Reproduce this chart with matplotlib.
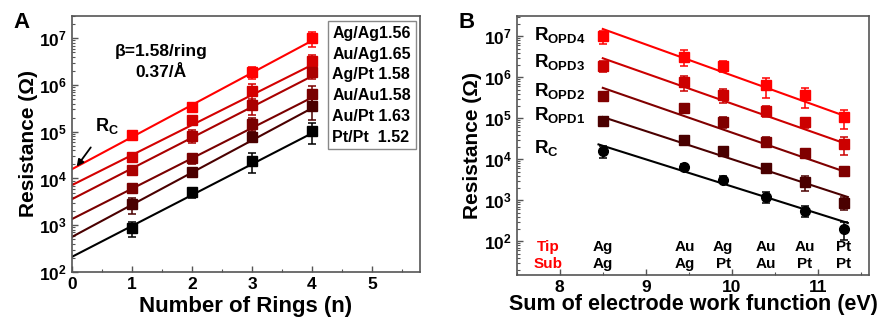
import matplotlib
matplotlib.use("Agg")
import matplotlib.pyplot as plt
import matplotlib.transforms as mtransforms
from matplotlib.ticker import FuncFormatter, LogLocator, MultipleLocator, NullFormatter
import numpy as np

plt.rcParams['font.family'] = ['Liberation Sans', 'DejaVu Sans']
plt.rcParams['font.weight'] = 'bold'
plt.rcParams['mathtext.fontset'] = 'custom'
plt.rcParams['mathtext.rm'] = 'Liberation Sans:bold'
plt.rcParams['mathtext.bf'] = 'Liberation Sans:bold'
plt.rcParams['mathtext.it'] = 'Liberation Sans:bold'

# ---- data ----
junctions = ['Ag/Ag', 'Au/Ag', 'Ag/Pt', 'Au/Au', 'Au/Pt', 'Pt/Pt']
tips = ['Ag', 'Au', 'Ag', 'Au', 'Au', 'Pt']
subs = ['Ag', 'Ag', 'Pt', 'Au', 'Pt', 'Pt']
betas = ['1.56', '1.65', '1.58', '1.58', '1.63', '1.52']
work_sum = [8.5, 9.45, 9.9, 10.4, 10.85, 11.3]
n_rings = [1, 2, 3, 4]

# resistance (Ohm) per junction at n = 1..4
res = [
    [8.5e4, 3.4e5, 1.9e6, 1.0e7],
    [2.9e4, 1.8e5, 7.6e5, 3.2e6],
    [1.55e4, 8.3e4, 3.7e5, 1.9e6],
    [6.1e3, 2.7e4, 1.5e5, 6.4e5],
    [2.8e3, 1.4e4, 7.9e4, 3.6e5],
    [8.7e2, 5.1e3, 2.4e4, 1.05e5],
]
res_err = [
    [1.7e4, 5.0e4, 5.5e5, 3.5e6],
    [5.5e3, 2.7e4, 3.0e5, 1.3e6],
    [3.0e3, 2.5e4, 1.4e5, 5.5e5],
    [1.2e3, 7.0e3, 4.5e4, 3.2e5],
    [1.1e3, 1.5e3, 2.0e4, 1.8e5],
    [3.0e2, 1.3e3, 1.1e4, 5.0e4],
]
# contact resistance R_C per junction
rc = [1.6e4, 6.6e3, 3.2e3, 1.2e3, 5.6e2, 2.0e2]
rc_err = [5.0e3, 1.0e3, 6.0e2, 3.5e2, 1.7e2, 9.0e1]

# fitted lines, panel A: value at n=0 and n=4
fitA_start = [1.58e4, 7.2e3, 3.6e3, 1.35e3, 5.6e2, 2.1e2]
fitA_end = [8.9e6, 2.7e6, 1.55e6, 5.4e5, 3.2e5, 9.3e4]

# fitted lines, panel B (R_OPD4 ... R_OPD1, R_C)
fitB_labels = ['OPD4', 'OPD3', 'OPD2', 'OPD1', 'C']
fitB_x = [(8.5, 11.35), (8.5, 11.35), (8.5, 11.3), (8.5, 11.35), (8.45, 11.35)]
fitB_y = [(1.5e7, 1.07e5), (2.9e6, 2.3e4), (5.5e5, 5.1e3), (1.07e5, 1.2e3), (2.3e4, 2.8e2)]
labB_y = [1.05e7, 2.4e6, 4.5e5, 1.2e5, 1.9e4]

colorsA = ['#ff0000', '#d40000', '#aa0000', '#7a0000', '#4a0000', '#000000']
colorsB = ['#ff0000', '#cc0000', '#800000', '#4a0000', '#000000']

fig = plt.figure(figsize=(8.88, 3.21), dpi=100)
axA = fig.add_axes([0.081, 0.153, 0.392, 0.797])
axB = fig.add_axes([0.582, 0.143, 0.397, 0.807])

sci = FuncFormatter(lambda v, p: r'$\mathbf{10^{%d}}$' % round(np.log10(v)))


def style(ax):
    ax.set_yscale('log')
    ax.yaxis.set_major_locator(LogLocator(base=10, numticks=20))
    ax.yaxis.set_minor_locator(LogLocator(base=10, subs=np.arange(2, 10), numticks=20))
    ax.yaxis.set_major_formatter(sci)
    ax.yaxis.set_minor_formatter(NullFormatter())
    ax.xaxis.set_minor_locator(MultipleLocator(0.5))
    ax.tick_params(which='both', direction='in', top=False, right=False,
                   labelsize=12.5, color='#555555')
    ax.tick_params(which='major', length=4, width=1)
    ax.tick_params(which='minor', length=2, width=0.8)
    for s in ax.spines.values():
        s.set_color('#555555')
        s.set_linewidth(1.2)
    ax.set_ylabel('Resistance (Ω)', fontsize=15, fontweight='bold', labelpad=1)


# ---- panel A ----
for i in range(len(junctions)):
    axA.plot([0, 4], [fitA_start[i], fitA_end[i]], color=colorsA[i], lw=1.5, zorder=2)
    axA.errorbar(n_rings, res[i], yerr=res_err[i], fmt='s', color=colorsA[i],
                 ms=6.5, capsize=3, elinewidth=1.1, capthick=1.1, zorder=3)

style(axA)
axA.set_xlim(0, 5.8)
axA.set_ylim(1e2, 3e7)
axA.set_xticks([0, 1, 2, 3, 4, 5])
axA.set_xlabel('Number of Rings (n)', fontsize=16, fontweight='bold', labelpad=3)

legend_txt = '\n'.join(
    j + (' ' if j.endswith('Pt') else '') + (' ' if j == 'Pt/Pt' else '') + b
    for j, b in zip(junctions, betas))
axA.text(0.748, 0.962, legend_txt, transform=axA.transAxes, ha='left', va='top',
         fontsize=11.5, fontweight='bold', linespacing=1.48,
         bbox=dict(boxstyle='square,pad=0.3', fc='white', ec='#888888', lw=1))
axA.text(0.255, 0.86, 'β=1.58/ring', transform=axA.transAxes, ha='center', va='center',
         fontsize=12.5, fontweight='bold')
axA.text(0.255, 0.78, '0.37/Å', transform=axA.transAxes, ha='center', va='center',
         fontsize=12.5, fontweight='bold')
axA.annotate(r'$\mathrm{R_C}$', xy=(0.08, 1.8e4), xytext=(0.38, 1.35e5),
             fontsize=13, ha='left', va='center',
             arrowprops=dict(arrowstyle='-|>', color='black', lw=1.3,
                             shrinkA=8, shrinkB=0, mutation_scale=10))
fig.text(0.015, 0.93, 'A', fontsize=16, fontweight='bold', va='center')

# ---- panel B ----
res_arr = np.array(res)
res_err_arr = np.array(res_err)
for k in range(4):
    col = 3 - k  # OPD4 -> n=4
    axB.plot(fitB_x[k], fitB_y[k], color=colorsB[k], lw=1.5, zorder=2)
    axB.errorbar(work_sum, res_arr[:, col], yerr=res_err_arr[:, col], fmt='s',
                 color=colorsB[k], ms=6.5, capsize=3, elinewidth=1.1, capthick=1.1, zorder=3)
axB.plot(fitB_x[4], fitB_y[4], color=colorsB[4], lw=1.5, zorder=2)
axB.errorbar(work_sum, rc, yerr=rc_err, fmt='o', color='black', ms=7,
             capsize=3, elinewidth=1.1, capthick=1.1, zorder=3)

for k, lab in enumerate(fitB_labels):
    axB.text(7.7, labB_y[k], r'$\mathrm{R_{%s}}$' % lab, fontsize=13.5,
             ha='left', va='center')

style(axB)
axB.set_xlim(7.5, 11.6)
axB.set_ylim(15, 3.1e7)
axB.set_xticks([8, 9, 10, 11])
axB.set_xlabel('Sum of electrode work function (eV)', fontsize=15.5,
               fontweight='bold', labelpad=-1)

trans = mtransforms.blended_transform_factory(axB.transData, axB.transAxes)
axB.text(7.86, 0.108, 'Tip', color='red', transform=trans, ha='center',
         va='center', fontsize=11, fontweight='bold')
axB.text(7.86, 0.042, 'Sub', color='red', transform=trans, ha='center',
         va='center', fontsize=11, fontweight='bold')
for x, t, s in zip(work_sum, tips, subs):
    axB.text(x, 0.108, t, transform=trans, ha='center', va='center',
             fontsize=11, fontweight='bold')
    axB.text(x, 0.042, s, transform=trans, ha='center', va='center',
             fontsize=11, fontweight='bold')
fig.text(0.516, 0.93, 'B', fontsize=16, fontweight='bold', va='center')

fig.savefig('out.png', dpi=100)
